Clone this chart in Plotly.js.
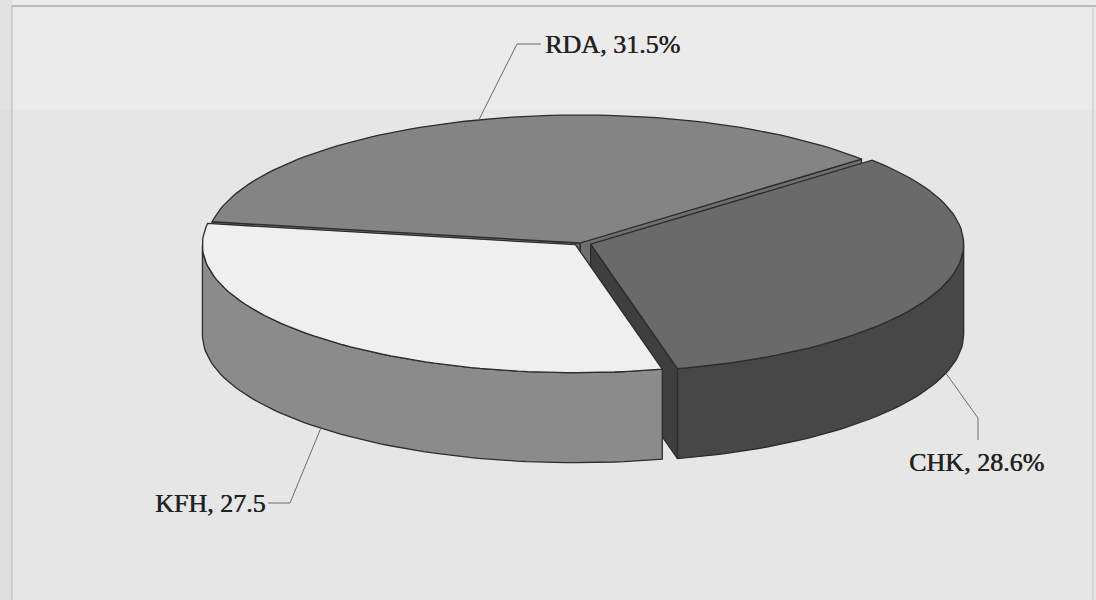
<!DOCTYPE html>
<html>
<head>
<meta charset="utf-8">
<script src="https://cdn.plot.ly/plotly-3.0.1.min.js"></script>
<style>
  html, body { margin: 0; padding: 0; background: #e6e6e6; }
  #chart { width: 1096px; height: 600px; }
</style>
</head>
<body>
<div id="chart"></div>
<script>
// Share of each unit (slices listed counter-clockwise from the RDA edge)
const slices     = ['RDA', 'KFH', 'CHK'];
const values     = [31.5, 27.5, 28.6];
const valueTexts = ['31.5%', '27.5', '28.6%'];

// Slice styling
const topColors  = ['#848484', '#efefef', '#6a6a6a'];
const sideColors = ['#7a7a7a', '#8b8b8b', '#474747'];
const wallColors = ['#6f6f6f', '#7c7c7c', '#3f3f3f'];
const explode    = [0, 0.018, 0.03];

// Projected disc geometry (pixel space of the plot area)
const G = { cx: 580, cy: 243, rx: 373, ry: 128, depth: 90, start: 41 };

// Label placement: elbow points of the leader lines and text anchors
const labelLayout = {
  RDA: { path: [[517, 44], [541, 44]], x: 543, y: 44, xanchor: 'left', rim: 'top' },
  KFH: { path: [[290, 503], [268, 503]], x: 268, y: 503, xanchor: 'right', rim: 'bottom' },
  CHK: { path: [[978, 418], [978, 440]], x: 976, y: 462, xanchor: 'center', rim: 'bottom' }
};

const EDGE = '#2c2c2c';
const rad = d => d * Math.PI / 180;
const cosd = d => Math.cos(rad(d));
const sind = d => Math.sin(rad(d));

const total = values.reduce((a, b) => a + b, 0);
const spans = [];
let acc = G.start;
values.forEach(v => {
  const s = 360 * v / total;
  spans.push([acc, acc + s]);
  acc += s;
});
const mids = spans.map(s => (s[0] + s[1]) / 2);
const offsets = mids.map((m, i) => [explode[i] * G.rx * cosd(m), -explode[i] * G.ry * sind(m)]);

function pt(i, t, r, dz) {
  return [G.cx + offsets[i][0] + r * G.rx * cosd(t),
          G.cy + offsets[i][1] - r * G.ry * sind(t) + dz];
}
function arc(i, t0, t1, dz) {
  const n = Math.max(2, Math.ceil(Math.abs(t1 - t0) / 1.5));
  const pts = [];
  for (let k = 0; k <= n; k++) pts.push(pt(i, t0 + (t1 - t0) * k / n, 1, dz));
  return pts;
}
function poly(pts, fill, name) {
  const closed = pts.concat([pts[0]]);
  return {
    type: 'scatter', mode: 'lines', name: name,
    x: closed.map(p => p[0]), y: closed.map(p => p[1]),
    fill: 'toself', fillcolor: fill,
    line: { color: EDGE, width: 1.3 },
    hoverinfo: 'skip', showlegend: false
  };
}

const traces = [];

// Radial walls facing the viewer (seen through the gaps between slices)
spans.forEach((s, i) => {
  const walls = [];
  if (cosd(s[0]) > 0) walls.push(s[0]);
  if (cosd(s[1]) < 0) walls.push(s[1]);
  walls.forEach(a => {
    traces.push(poly([pt(i, 0, 0, 0), pt(i, a, 1, 0), pt(i, a, 1, G.depth), pt(i, 0, 0, G.depth)],
                     wallColors[i], slices[i] + ' wall'));
  });
});

// Back-to-front: slices whose middle lies farther back are painted first
const order = slices.map((_, i) => i).sort((a, b) => sind(mids[b]) - sind(mids[a]));
order.forEach(i => {
  const [t0, t1] = spans[i];
  // outer rim facing the viewer: angles in [180, 360] (mod 360)
  [[180, 360], [540, 720]].forEach(([lo, hi]) => {
    const a = Math.max(t0, lo), b = Math.min(t1, hi);
    if (b > a) {
      const topArc = arc(i, a, b, 0);
      const botArc = arc(i, b, a, G.depth);
      traces.push(poly(topArc.concat(botArc), sideColors[i], slices[i] + ' side'));
    }
  });
  traces.push(poly([pt(i, 0, 0, 0)].concat(arc(i, t0, t1, 0)), topColors[i], slices[i]));
});

// Leader lines and labels
const annotations = [];
slices.forEach((name, i) => {
  const L = labelLayout[name];
  const anchor = pt(i, mids[i], 1, L.rim === 'top' ? 0 : G.depth);
  const path = [anchor].concat(L.path);
  traces.push({
    type: 'scatter', mode: 'lines',
    x: path.map(p => p[0]), y: path.map(p => p[1]),
    line: { color: '#6b6b6b', width: 1 },
    hoverinfo: 'skip', showlegend: false
  });
  annotations.push({
    x: L.x, y: L.y, xref: 'x', yref: 'y',
    text: name + ', ' + valueTexts[i],
    showarrow: false, xanchor: L.xanchor, yanchor: 'middle',
    font: { family: 'Liberation Serif, serif', size: 26, color: '#222222',
            shadow: '0.5px 0 0 #222222' }
  });
});

// Page tone and the thin frame around the chart
const shapes = [
  { type: 'rect', xref: 'x', yref: 'y', x0: 0, x1: 1096, y0: 0, y1: 110, fillcolor: '#ebebeb', line: { width: 0 }, layer: 'below' },
  { type: 'rect', xref: 'x', yref: 'y', x0: 0, x1: 12, y0: 0, y1: 600, fillcolor: '#000', opacity: 0.035, line: { width: 0 }, layer: 'below' },
  { type: 'line', xref: 'x', yref: 'y', x0: 12, x1: 1096, y0: 6, y1: 6, line: { color: '#a8a8a8', width: 1.5 }, layer: 'below' },
  { type: 'line', xref: 'x', yref: 'y', x0: 12, x1: 12, y0: 6, y1: 600, line: { color: '#b8b8b8', width: 1 }, layer: 'below' },
  { type: 'line', xref: 'x', yref: 'y', x0: 1093, x1: 1093, y0: 6, y1: 600, line: { color: '#c4c4c4', width: 1 }, layer: 'below' }
];

const layout = {
  width: 1096, height: 600,
  margin: { l: 0, r: 0, t: 0, b: 0 },
  paper_bgcolor: '#e6e6e6', plot_bgcolor: '#e6e6e6',
  xaxis: { range: [0, 1096], visible: false, fixedrange: true },
  yaxis: { range: [600, 0], visible: false, fixedrange: true },
  showlegend: false,
  hovermode: false,
  annotations: annotations,
  shapes: shapes
};

Plotly.newPlot('chart', traces, layout, { displayModeBar: false, staticPlot: true });
</script>
</body>
</html>
